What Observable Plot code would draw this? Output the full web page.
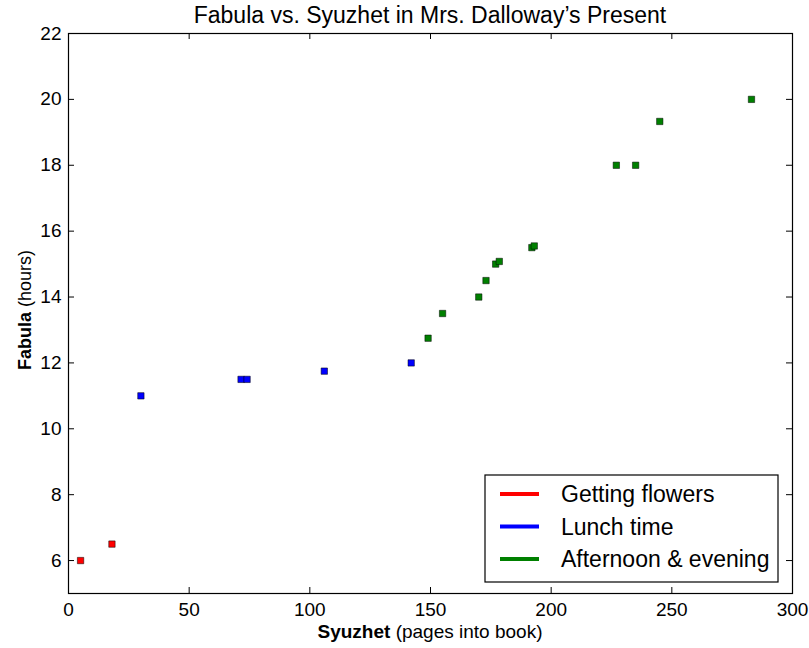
<!DOCTYPE html>
<html><head><meta charset="utf-8">
<script src="https://cdn.jsdelivr.net/npm/d3@7"></script>
<script src="https://cdn.jsdelivr.net/npm/@observablehq/plot@0.6"></script>
<style>
body{margin:0;background:#fff}
svg{font-family:"Liberation Sans",Arial,Helvetica,sans-serif}
</style>
</head><body><div id="chart"></div>
<script>
// ---- data ----
const sections = ["Getting flowers", "Lunch time", "Afternoon & evening"];
const sectionColors = ["#ff0000", "#0000ff", "#008000"];
const syuzhet = [5, 18, 30, 71.5, 74, 106, 142, 149, 155, 170, 173, 177, 178.5, 192, 193, 227, 235, 245, 283];
const fabula  = [6, 6.5, 11, 11.5, 11.5, 11.75, 12, 12.75, 13.5, 14, 14.5, 15, 15.08, 15.5, 15.55, 18, 18, 19.33, 20];
const sectionIndex = [0, 0, 1, 1, 1, 1, 1, 2, 2, 2, 2, 2, 2, 2, 2, 2, 2, 2, 2];
const xTicks = [0, 50, 100, 150, 200, 250, 300];
const yTicks = [6, 8, 10, 12, 14, 16, 18, 20, 22];
const titleText = "Fabula vs. Syuzhet in Mrs. Dalloway\u2019s Present";

const points = syuzhet.map((s, i) => ({s, f: fabula[i], section: sections[sectionIndex[i]]}));

const W = 809, H = 648;
const mL = 68, mR = 17, mT = 33, mB = 55;
const fw = W - mL - mR, fh = H - mT - mB;
const tl = 6;

const plot = Plot.plot({
  width: W, height: H,
  marginLeft: mL, marginRight: mR, marginTop: mT, marginBottom: mB,
  style: {fontSize: "19px", color: "#000", background: "#fff"},
  x: {domain: [0, 300], ticks: xTicks, label: null},
  y: {domain: [5, 22], ticks: yTicks, label: null},
  color: {domain: sections, range: sectionColors},
  marks: [
    Plot.axisX(xTicks, {tickSize: 0, tickPadding: 9, label: null, fontSize: 19}),
    Plot.axisY(yTicks, {tickSize: 0, tickPadding: 7, label: null, fontSize: 19}),
    Plot.tickX(xTicks, {x: d => d, insetTop: fh - tl, stroke: "#000"}),
    Plot.tickX(xTicks, {x: d => d, insetBottom: fh - tl, stroke: "#000"}),
    Plot.tickY(yTicks, {y: d => d, insetRight: fw - tl, stroke: "#000"}),
    Plot.tickY(yTicks, {y: d => d, insetLeft: fw - tl, stroke: "#000"}),
    Plot.dot(points, {x: "s", y: "f", fill: "section", symbol: "square", r: 3.6, stroke: "#000", strokeWidth: 0.5}),
    Plot.frame({stroke: "#000", strokeWidth: 1.2})
  ]
});
document.getElementById("chart").appendChild(plot);

const svg = d3.select(plot);
const cx = mL + fw / 2, cy = mT + fh / 2;
svg.append("text").attr("x", cx).attr("y", 23).attr("text-anchor", "middle")
  .attr("font-size", 23).text(titleText);

const xl = svg.append("text").attr("x", cx).attr("y", 638).attr("text-anchor", "middle").attr("font-size", 19);
xl.append("tspan").attr("font-weight", "bold").text("Syuzhet");
xl.append("tspan").text(" (pages into book)");

const yl = svg.append("text").attr("transform", `translate(31,${cy - 3}) rotate(-90)`).attr("text-anchor", "middle").attr("font-size", 18);
yl.append("tspan").attr("font-weight", "bold").text("Fabula");
yl.append("tspan").text(" (hours)");

// legend
const lg = svg.append("g");
lg.append("rect").attr("x", 485).attr("y", 475).attr("width", 293).attr("height", 107)
  .attr("fill", "#fff").attr("stroke", "#000").attr("stroke-width", 1.2);
sections.forEach((name, i) => {
  const y = 494 + i * 32.5;
  lg.append("line").attr("x1", 500).attr("x2", 539).attr("y1", y).attr("y2", y)
    .attr("stroke", sectionColors[i]).attr("stroke-width", 4);
  lg.append("text").attr("x", 561).attr("y", y).attr("dy", "0.35em").attr("text-anchor", "start")
    .attr("font-size", 23).text(name);
});
</script>
</body></html>
